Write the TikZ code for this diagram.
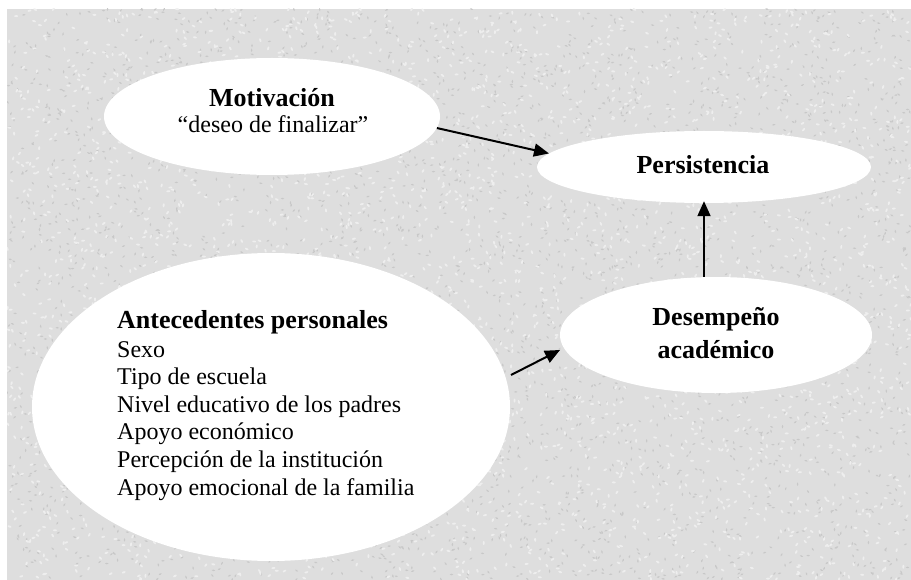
\documentclass[tikz,border=0pt]{standalone}
\usepackage{fontspec}
\setmainfont{Liberation Serif}
\usetikzlibrary{shapes.geometric,arrows.meta}
\definecolor{bggray}{RGB}{222,222,222}
\definecolor{speckdark}{RGB}{200,200,200}
\definecolor{specklight}{RGB}{238,238,238}
\tikzset{
  blob/.style={ellipse, fill=white, draw=none, inner sep=0pt},
  headtxt/.style={anchor=base, inner sep=0pt, font=\fontsize{26}{30}\selectfont\bfseries},
  bodytxt/.style={anchor=base, inner sep=0pt, font=\fontsize{24}{27.6}\selectfont},
  listtxt/.style={anchor=base west, inner sep=0pt, font=\fontsize{24}{27.6}\selectfont},
  arr/.style={line width=2pt, -{Triangle[length=15pt,width=13pt]}}
}
\begin{document}
\begin{tikzpicture}[x=1pt,y=-1pt]
\useasboundingbox (0,0) rectangle (911,580);
\fill[bggray] (7,9) rectangle (911,580);
\pgfmathsetseed{4242}
\begin{scope}
\clip (7,9) rectangle (911,580);
\foreach \i in {1,...,3500} {
  \pgfmathsetmacro{\px}{7+904*rnd}
  \pgfmathsetmacro{\py}{9+571*rnd}
  \pgfmathsetmacro{\pa}{180*rnd}
  \fill[speckdark, rotate around={\pa:(\px,\py)}] (\px,\py) ellipse (1.8pt and 0.8pt);
}
\foreach \i in {1,...,3000} {
  \pgfmathsetmacro{\px}{7+904*rnd}
  \pgfmathsetmacro{\py}{9+571*rnd}
  \pgfmathsetmacro{\pa}{180*rnd}
  \fill[specklight, rotate around={\pa:(\px,\py)}] (\px,\py) ellipse (2pt and 1pt);
}
\end{scope}
% ellipses
\node[blob, minimum width=336pt, minimum height=117pt] (mot) at (272,116.5) {};
\node[blob, minimum width=334pt, minimum height=72pt] (per) at (704,167) {};
\node[blob, minimum width=312pt, minimum height=116pt] (des) at (716,335) {};
\node[blob, minimum width=478pt, minimum height=308pt] (ant) at (271,407) {};
% texts
\node[headtxt] (motT) at (272,107) {Motivación};
\node[bodytxt] (motS) at (273,133) {“deseo de finalizar”};
\node[headtxt] (perT) at (703,174) {Persistencia};
\node[headtxt] (desT1) at (716,326) {Desempeño};
\node[headtxt] (desT2) at (716,359) {académico};
\node[headtxt, anchor=base west] (antT) at (117,328) {Antecedentes personales};
\node[listtxt] (l1) at (117,357) {Sexo};
\node[listtxt] (l2) at (117,384.6) {Tipo de escuela};
\node[listtxt] (l3) at (117,412.2) {Nivel educativo de los padres};
\node[listtxt] (l4) at (117,439.8) {Apoyo económico};
\node[listtxt] (l5) at (117,467.4) {Percepción de la institución};
\node[listtxt] (l6) at (117,495) {Apoyo emocional de la familia};
% connectors
\coordinate (a2s) at (511,375);
\coordinate (a2e) at (560,350);
\draw[arr] (mot.-4.6) -- (per.175.9);
\draw[arr] (a2s) -- (a2e);
\draw[arr] (des.north -| per.south) -- ([yshift=2pt]per.south);
\end{tikzpicture}
\end{document}
